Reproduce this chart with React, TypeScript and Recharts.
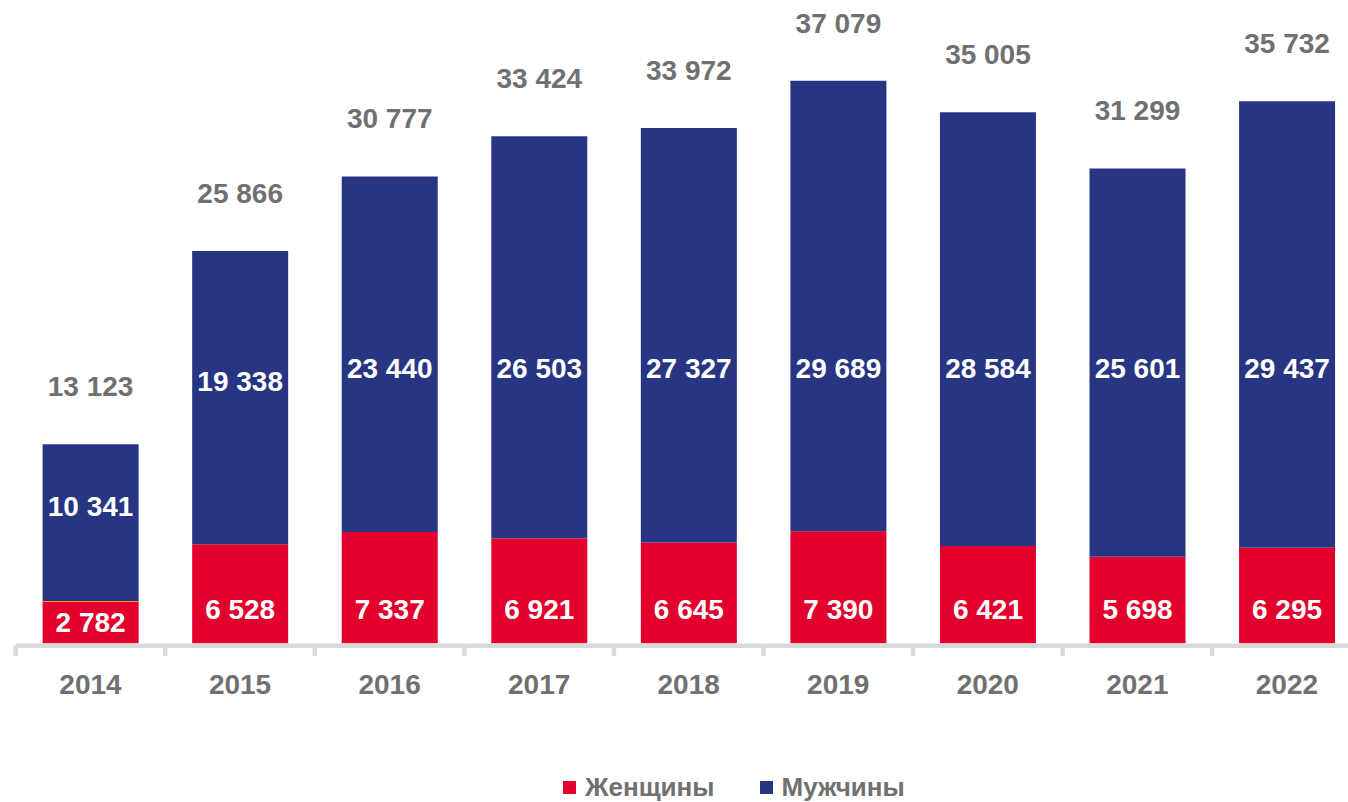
import { BarChart, Bar, XAxis, YAxis, Legend, LabelList } from 'recharts';

const years = ['2014', '2015', '2016', '2017', '2018', '2019', '2020', '2021', '2022'];
const women = [2782, 6528, 7337, 6921, 6645, 7390, 6421, 5698, 6295];
const men = [10341, 19338, 23440, 26503, 27327, 29689, 28584, 25601, 29437];
const totals = [13123, 25866, 30777, 33424, 33972, 37079, 35005, 31299, 35732];

const RED = '#e3002c';
const NAVY = '#283583';
const GRAY = '#707070';
const AXIS = '#d9d9d9';
const FONT = '"Liberation Sans", Arial, sans-serif';

const data = years.map((year, i) => ({ year, women: women[i], men: men[i], total: totals[i] }));

const fmt = (v: number) => String(v).replace(/\B(?=(\d{3})+(?!\d))/g, ' ');

const WomenShape = (props: any) => {
  const { x, y, width, height, index } = props;
  return (
    <g>
      <rect x={x} y={y} width={width} height={height} fill={RED} />
      {index === 0 && <line x1={x} x2={x + width} y1={y} y2={y} stroke="#ffc000" strokeWidth={1.5} />}
    </g>
  );
};

const womenLabel = (props: any) => {
  const { x, y, width, height, value } = props;
  const cy = Math.max(y + height / 2, 609);
  return (
    <text x={x + width / 2} y={cy + 10} textAnchor="middle" fill="#fff" fontFamily={FONT} fontWeight={700} fontSize={28}>
      {fmt(value)}
    </text>
  );
};

const menLabel = (props: any) => {
  const { x, y, width, height, value } = props;
  const cy = Math.max(y + height / 2 - 17, 368);
  return (
    <text x={x + width / 2} y={cy + 10} textAnchor="middle" fill="#fff" fontFamily={FONT} fontWeight={700} fontSize={28}>
      {fmt(value)}
    </text>
  );
};

const totalLabel = (props: any) => {
  const { x, y, width, value } = props;
  return (
    <text x={x + width / 2} y={y - 58 + 10} textAnchor="middle" fill={GRAY} fontFamily={FONT} fontWeight={700} fontSize={28}>
      {fmt(value)}
    </text>
  );
};

const YearTick = (props: any) => {
  const { x, y, payload, index } = props;
  const half = payload.offset || 1346.4 / 18;
  const ly = y + 2.5;
  return (
    <g>
      <line x1={x - half} x2={x + half} y1={ly} y2={ly} stroke={AXIS} strokeWidth={4.5} />
      <line x1={x - half} x2={x - half} y1={ly} y2={ly + 10} stroke={AXIS} strokeWidth={4.5} />
      {index === years.length - 1 && (
        <line x1={x + half} x2={x + half} y1={ly} y2={ly + 10} stroke={AXIS} strokeWidth={4.5} />
      )}
      <text x={x} y={y + 51} textAnchor="middle" fill={GRAY} fontFamily={FONT} fontWeight={700} fontSize={28}>
        {payload.value}
      </text>
    </g>
  );
};

const LegendContent = (props: any) => {
  const { payload } = props;
  return (
    <div style={{ display: 'flex', alignItems: 'center', fontFamily: FONT, fontWeight: 700, fontSize: 26, color: GRAY }}>
      {payload.map((p: any, i: number) => (
        <div key={i} style={{ display: 'flex', alignItems: 'center', marginRight: 45 }}>
          <span style={{ display: 'inline-block', width: 13, height: 13, background: p.color }} />
          <span style={{ marginLeft: 9 }}>{p.value}</span>
        </div>
      ))}
    </div>
  );
};

export default function App() {
  return (
    <div style={{ position: 'absolute', left: 0, top: 0, width: 1348, height: 802, overflow: 'hidden', background: '#fff' }}>
      <BarChart
        width={1364}
        height={802}
        data={data}
        margin={{ top: 36.5, right: 2.3, left: 15.7, bottom: 98.7 }}
        barCategoryGap="18%"
      >
        <XAxis dataKey="year" height={60} axisLine={false} tickLine={false} tickSize={0} tickMargin={0} tick={<YearTick />} interval={0} />
        <YAxis hide domain={[0, 40000]} />
        <Legend
          layout="horizontal"
          verticalAlign="middle"
          align="center"
          content={<LegendContent />}
          wrapperStyle={{ position: 'absolute', left: 563, top: 772, width: 'auto' }}
        />
        <Bar dataKey="women" name="Женщины" stackId="a" fill={RED} shape={<WomenShape />} isAnimationActive={false}>
          <LabelList dataKey="women" content={womenLabel} />
        </Bar>
        <Bar dataKey="men" name="Мужчины" stackId="a" fill={NAVY} isAnimationActive={false}>
          <LabelList dataKey="men" content={menLabel} />
          <LabelList dataKey="total" content={totalLabel} />
        </Bar>
      </BarChart>
    </div>
  );
}
